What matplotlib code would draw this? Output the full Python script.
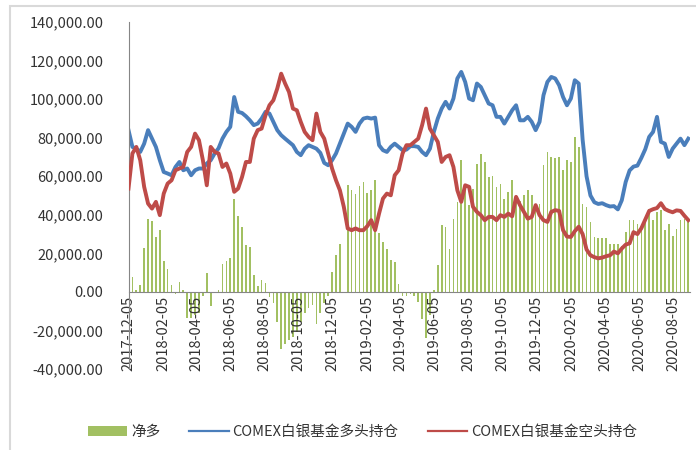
import matplotlib
matplotlib.use('Agg')

import matplotlib.pyplot as plt
import matplotlib.dates as mdates
from matplotlib.patches import Patch, Rectangle
from matplotlib.lines import Line2D
from matplotlib.ticker import FuncFormatter, MultipleLocator
import numpy as np
import pandas as pd

plt.rcParams['font.family'] = ['Noto Sans CJK SC', 'DejaVu Sans']

# === 数据（周度） ===
start_date = '2017-12-05'

long_pos = [
    83900, 75200, 74300, 72600, 76900, 83900, 79500, 75200, 68300, 62200,
    61400, 60500, 64800, 67400, 63100, 64000, 60500, 63100, 64000, 64000,
    66600, 68300, 71800, 74500, 79500, 83000, 85600, 101100, 93400, 92800,
    91100, 89000, 86500, 87300, 89900, 93400, 92500, 88200, 83900, 81300,
    79500, 77800, 76100, 72600, 70900, 74300, 76100, 75200, 74300, 72100,
    66900, 65700, 68300, 71800, 76900, 82100, 87300, 85600, 83000, 87300,
    89900, 90400, 89900, 90400, 76100, 73500, 72600, 75200, 76900, 75200,
    73500, 73800, 75600, 75600, 75200, 72600, 70900, 74300, 83000, 89900,
    95100, 98600, 95100, 100300, 110700, 114100, 108900, 100300, 99400, 108100,
    106300, 102000, 97700, 96800, 90800, 90800, 87300, 90800, 94200, 96800,
    89000, 89000, 90800, 88200, 83900, 88200, 102000, 108900, 111500, 110700,
    107200, 101100, 96800, 100300, 109800, 108100, 79000, 60000, 50000, 46500,
    45600, 46000, 45000, 44300, 44500, 42800, 47500, 57000, 63000, 65000,
    65500, 69500, 74000, 80400, 83000, 90800, 77800, 76900, 70000, 74300,
    76900, 79500, 76100, 79500,
]

short_pos = [
    53600, 71800, 75200, 68300, 54500, 45800, 43200, 46700, 39800, 51000,
    56200, 57900, 63100, 64000, 64800, 72600, 75200, 82100, 78700, 68300,
    55300, 75200, 72600, 71800, 64800, 66600, 61400, 51900, 53600, 59600,
    67400, 67400, 79500, 83900, 84700, 91600, 96800, 99400, 105500, 113200,
    108100, 103700, 95100, 94200, 88200, 83000, 80400, 78700, 92500, 83000,
    79500, 71800, 64000, 57900, 52700, 44100, 32900, 32000, 32900, 32000,
    32000, 34100, 37200, 32000, 40600, 48400, 51000, 50100, 60500, 63100,
    71800, 76100, 76100, 77800, 79500, 86500, 95100, 84700, 81300, 77800,
    67400, 70000, 70900, 64800, 52700, 46700, 55300, 54500, 44100, 41500,
    39800, 37200, 38900, 38900, 37200, 39800, 38900, 40600, 39200, 49300,
    45000, 41500, 38000, 38900, 45000, 39800, 37200, 36300, 41500, 42400,
    42000, 32000, 28700, 28500, 31500, 33800, 30000, 22000, 19000, 18000,
    17400, 17800, 18500, 19000, 20900, 20000, 22500, 24500, 25200, 31000,
    30000, 33000, 37500, 42000, 42900, 43500, 46000, 43000, 42000, 41300,
    42300, 42000, 39500, 37200,
]

net_pos = [
    30300, 7800, 1000, 3500, 22800, 37700, 36700, 28500, 32300, 16000,
    12100, 3800, -1200, 5200, 1200, -13800, -13800, -12000, -11000, -2200,
    10000, -7400, -500, 1000, 14700, 16000, 17800, 48400, 39200, 33700,
    24200, 23300, 8600, 2900, 6400, 4700, -2600, -6000, -15600, -29400,
    -26800, -25100, -23300, -20700, -15600, -11200, -8100, -6900, -16800, -11200,
    -6000, -2200, 10400, 19000, 25000, np.nan, 55300, 53100, 51000, 54800,
    57000, 51400, 53000, 58000, 30300, 26000, 22500, 16400, 15600, 4300,
    -2200, -2000, -1000, -2000, -5000, -14000, -24000, -12000, 1000, 13800,
    34600, 33700, 22500, 38000, 46700, 68300, 52700, 45000, 53600, 66200,
    71400, 67400, 59600, 60000, 54500, 56200, 48000, 52000, 58000, 46000,
    47000, 50000, 53000, 50000, 42000, 45800, 65700, 72600, 70000, 69200,
    70000, 63000, 68300, 67400, 80400, 75200, 45800, 44000, 36300, 28500,
    28200, 28200, 28200, 25000, 25000, 25000, 24000, 31100, 37200, 37200,
    35400, 32800, 38000, 43200, 37200, 41500, 42400, 32000, 35400, 28900,
    32800, 37200, 38000, 36300,
]

dates = pd.date_range(start_date, periods=len(long_pos), freq='7D')

c_green = '#A2C062'
c_blue = '#4A7EBB'
c_red = '#BE4B48'
c_text = '#333333'

fig = plt.figure(figsize=(6.96, 4.5), dpi=100)
ax = fig.add_axes([128.5 / 696, 1 - 369 / 450, (690 - 128.5) / 696, (369 - 22) / 450])

ax.bar(dates, net_pos, width=3, color=c_green, zorder=1)
ax.plot(dates, long_pos, color=c_blue, lw=2.8, zorder=2)
ax.plot(dates, short_pos, color=c_red, lw=2.8, zorder=3)

# === 坐标轴 ===
ax.set_ylim(-40000, 140000)
ax.yaxis.set_major_locator(MultipleLocator(20000))
ax.yaxis.set_major_formatter(FuncFormatter(lambda v, p: f'{v:,.2f}'))
ax.set_xlim(dates[0], dates[-1] + pd.Timedelta(days=3))
ax.xaxis.set_major_locator(mdates.MonthLocator(bymonth=range(2, 13, 2), bymonthday=5))
ax.xaxis.set_major_formatter(mdates.DateFormatter('%Y-%m-%d'))

for s in ['top', 'right']:
    ax.spines[s].set_visible(False)
ax.spines['bottom'].set_position(('data', 0))
ax.spines['bottom'].set_color('#868686')
ax.spines['left'].set_color('#868686')
ax.spines['bottom'].set_zorder(4)

ax.tick_params(axis='x', length=0, pad=3, labelsize=10.5, labelcolor=c_text, labelrotation=90)
ax.tick_params(axis='y', length=0, pad=18, labelsize=10.5, labelcolor=c_text)

# === 图例 ===
handles = [
    Patch(facecolor=c_green, edgecolor='none'),
    Line2D([], [], color=c_blue, lw=1.6),
    Line2D([], [], color=c_red, lw=1.6),
]
labels = ['净多', 'COMEX白银基金多头持仓', 'COMEX白银基金空头持仓']
fig.legend(handles, labels, loc='center left', bbox_to_anchor=(88 / 696, 1 - 432 / 450),
           ncol=3, frameon=False, fontsize=10.5, handlelength=2.7, handleheight=0.65,
           handletextpad=0.25, columnspacing=2.0, borderpad=0, borderaxespad=0,
           labelcolor=c_text)

# 外框
fig.patches.append(Rectangle((10 / 696, -0.1), 1.2, 1.1 - 6 / 450, transform=fig.transFigure,
                             fill=False, edgecolor='#d9d9d9', lw=1.5))

fig.savefig('out.png', dpi=100)
